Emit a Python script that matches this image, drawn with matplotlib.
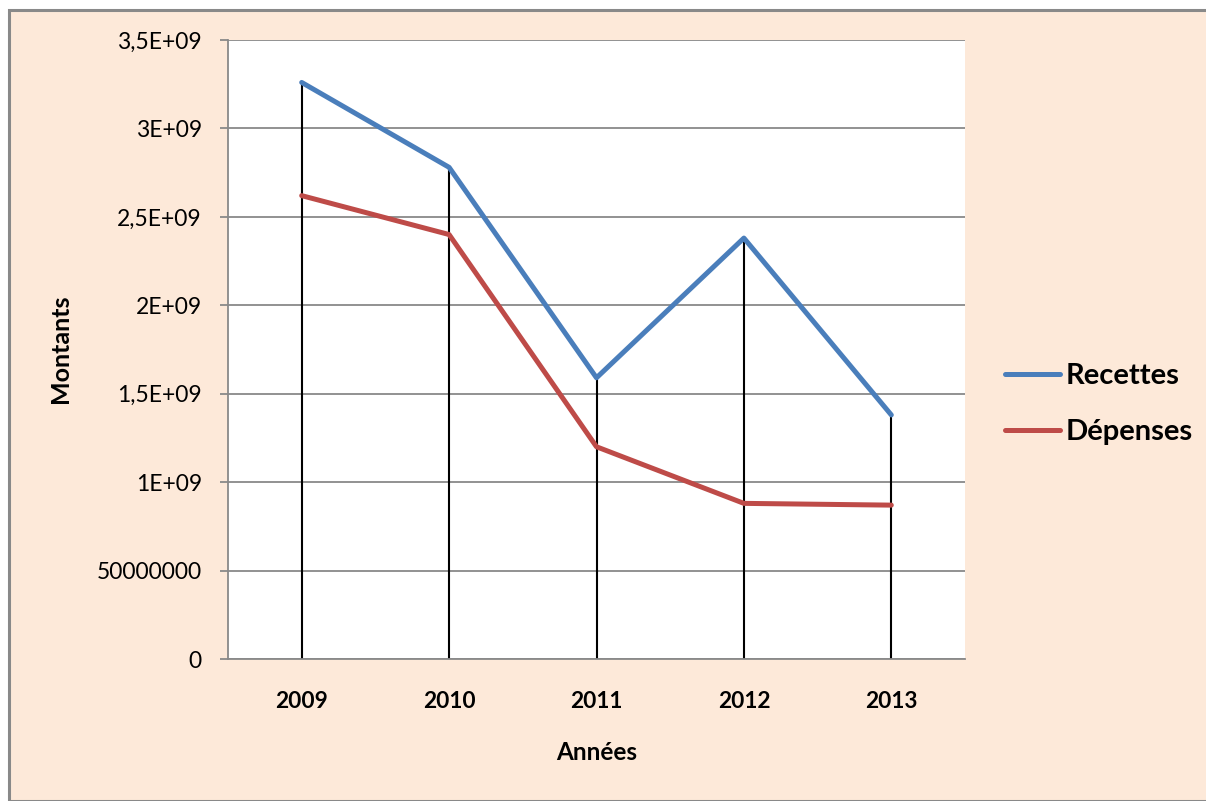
import matplotlib.pyplot as plt
from matplotlib.patches import Rectangle

annees = ['2009', '2010', '2011', '2012', '2013']
recettes = [3.26e9, 2.78e9, 1.59e9, 2.38e9, 1.38e9]
depenses = [2.62e9, 2.40e9, 1.20e9, 0.88e9, 0.87e9]
yticks = [0, 0.5e9, 1e9, 1.5e9, 2e9, 2.5e9, 3e9, 3.5e9]
ylabels = ['0', '50000000', '1E+09', '1,5E+09', '2E+09', '2,5E+09', '3E+09', '3,5E+09']

plt.rcParams['font.family'] = ['Lato', 'DejaVu Sans']

W, H = 1206, 801
fig = plt.figure(figsize=(W / 100, H / 100), dpi=100, facecolor='white')

# fond peche du graphique
fig.patches.append(Rectangle((9 / W, 0), 1.0, 1 - 10 / H, transform=fig.transFigure,
                             facecolor='#FDE9D9', edgecolor='#898989', linewidth=2.2, zorder=-5))

ax = fig.add_axes([228 / W, 1 - 659 / H, (965 - 228) / W, (659 - 40) / H])
ax.set_facecolor('white')

x = range(len(annees))
ax.vlines(x, 0, recettes, color='black', linewidth=1.5, zorder=2)
ax.plot(x, recettes, color='#4A7EBB', linewidth=3.6, solid_capstyle='round', label='Recettes', zorder=3)
ax.plot(x, depenses, color='#BE4B48', linewidth=3.6, solid_capstyle='round', label='Dépenses', zorder=3)

ax.set_xlim(-0.5, 4.5)
ax.set_ylim(0, 3.5e9)
ax.set_yticks(yticks, ylabels)
ax.set_xticks(list(x), annees)
ax.grid(axis='y', color='#898989', linewidth=1.3)
ax.set_axisbelow(True)

for s in ['top', 'right']:
    ax.spines[s].set_visible(False)
ax.spines['left'].set_color('#898989')
ax.spines['bottom'].set_color('#898989')
ax.spines['left'].set_linewidth(1.3)
ax.spines['bottom'].set_linewidth(1.3)

ax.tick_params(axis='y', length=5.8, width=1.3, color='#898989', pad=13, labelsize=16.5)
ax.tick_params(axis='x', length=0, pad=23, labelsize=16.3)
for t in ax.get_xticklabels():
    t.set_fontweight('bold')

ax.set_xlabel('Années', fontsize=17.5, fontweight='bold')
ax.xaxis.set_label_coords(0.5, (659 - 741) / (659 - 40))
ax.set_ylabel('Montants', fontsize=18, fontweight='bold')
ax.yaxis.set_label_coords((72 - 228) / (965 - 228), (659 - 349) / (659 - 40))

ax.legend(loc='center left', bbox_to_anchor=(1005 / W, 1 - 404 / H), bbox_transform=fig.transFigure,
          frameon=False, prop={'weight': 'bold', 'size': 21}, handlelength=1.9,
          handletextpad=0.17, labelspacing=1.03, borderpad=0, borderaxespad=0)

fig.savefig('out.png', dpi=100)
